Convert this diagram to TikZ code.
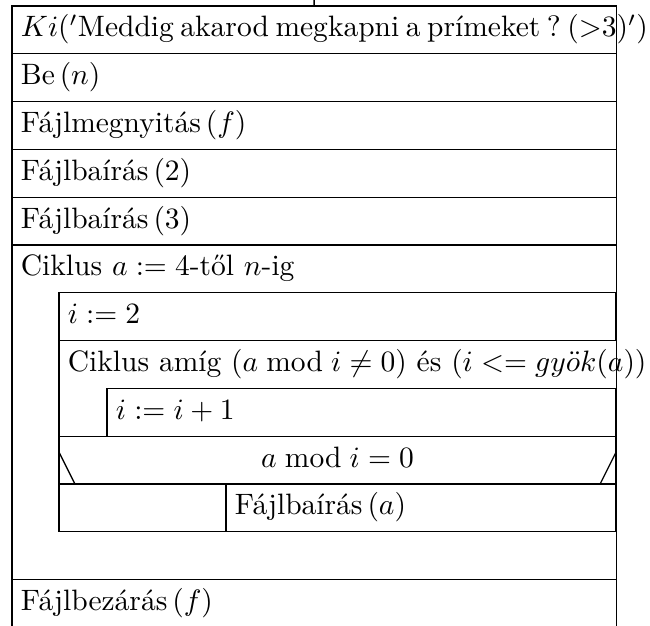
\documentclass[tikz,border=0pt]{standalone}
\usepackage{amsmath}
\usepackage{amssymb}
\usepackage{tikz}
\usetikzlibrary{positioning}

\begin{document}
\begin{tikzpicture}[
    node distance=0pt,
    line width=0.45pt,
    sor/.style={rectangle, draw, anchor=north west, minimum height=16.2pt,
                text width=198.8pt, inner xsep=3pt, inner ysep=0pt, outer sep=0pt,
                align=left, text height=7pt, text depth=2.2pt},
    fej/.style={sor, draw=none},
    belso/.style={sor, text width=182.8pt},
    belso2/.style={sor, text width=166.5pt},
    feltetel/.style={rectangle, draw, minimum width=188.8pt, minimum height=16.2pt,
                     inner sep=0pt, outer sep=0pt, text height=7pt, text depth=2.2pt},
]
\useasboundingbox (0,0) rectangle (220.3pt,-211.9pt);
\coordinate (start) at (106.46pt,0);

\node[sor] (ki) at (4.07pt,-2.03pt) {\spaceskip=2.22pt\xspaceskip=2.22pt\mbox{$Ki('$Meddig akarod megkapni a prímeket ? (>3$)'$)}};
\node[sor, below=of ki] (be) {Be\,$(n)$};
\node[sor, below=of be] (nyit) {Fájlmegnyitás\,$(f)$};
\node[sor, below=of nyit] (ir2) {Fájlbaírás\,$(2)$};
\node[sor, below=of ir2] (ir3) {Fájlbaírás\,$(3)$};
\node[fej, below=of ir3] (ciklus) {Ciklus $a:=4$-től $n$-ig};

% ciklusmag
\node[belso, below right=0pt and 15.93pt of ciklus.south west] (i2) {$i:=2$};
\node[belso, draw=none, below=of i2] (amig) {\mbox{Ciklus amíg $(a \bmod i \neq 0)$ és $(i <= gy\ddot{o}k(a))$}};
\node[belso2, below right=0pt and 16.3pt of amig.south west] (novel) {$i:=i+1$};
\node[feltetel, below=16.2pt of amig] (ha) {$a \bmod i = 0$};
\node[sor, text width=50.6pt, below right=0pt of ha.south west] (ures) {};
\node[sor, text width=126.2pt, right=of ures] (irA) {Fájlbaírás\,$(a)$};

\coordinate (alja) at (ures.south -| ki.west);
\node[sor, below right=16.2pt and 0pt of alja] (zar) {Fájlbezárás\,$(f)$};

\draw (start) -- (ki.north);
\draw (ciklus.north west) -- (zar.north west);
\draw (ciklus.north east) -- (zar.north east);
\draw (amig.north west) -- (amig.north west |- novel.south);
\draw ([yshift=-5.4pt]ha.north west) -- ([xshift=5.4pt]ha.south west);
\draw ([yshift=-5.4pt]ha.north east) -- ([xshift=-5.4pt]ha.south east);
\end{tikzpicture}
\end{document}
